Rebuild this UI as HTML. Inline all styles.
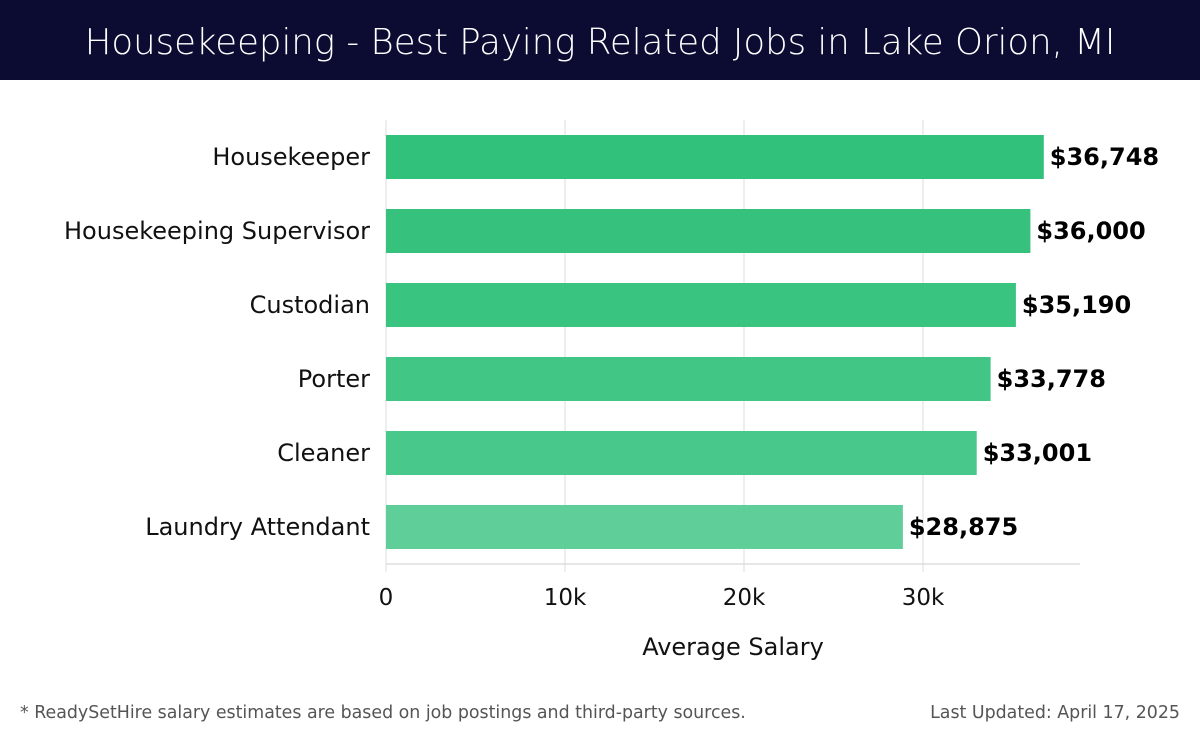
<!DOCTYPE html>
<html><head><meta charset="utf-8"><style>
body{margin:0;width:1200px;height:740px;background:#fff;font-family:"DejaVu Sans","Liberation Sans",sans-serif;overflow:hidden}
#hdr{position:absolute;left:0;top:0;width:1200px;height:80px;background:#0c0c33;color:#fff;font-size:35.5px;text-align:center;line-height:86px;font-weight:300}
.foot{position:absolute;top:703px;font-size:17.4px;color:#555}
</style></head><body>
<div id="hdr">Housekeeping - Best Paying Related Jobs in Lake Orion, MI</div>
<svg id="chart" width="1200" height="740" style="position:absolute;left:0;top:0;font-family:'DejaVu Sans',sans-serif"></svg>
<div class="foot" style="left:20px">* ReadySetHire salary estimates are based on job postings and third-party sources.</div>
<div class="foot" style="right:20px">Last Updated: April 17, 2025</div>
<script>
const categories=["Housekeeper","Housekeeping Supervisor","Custodian","Porter","Cleaner","Laundry Attendant"];
const values=[36748,36000,35190,33778,33001,28875];
const valueLabels=["$36,748","$36,000","$35,190","$33,778","$33,001","$28,875"];
const ticks=[0,10000,20000,30000];
const tickLabels=["0","10k","20k","30k"];
const colors=["#2bbf76","#2fc079","#33c27c","#3cc482","#42c686","#5acc96"];
const svg=document.getElementById('chart');const NS="http://www.w3.org/2000/svg";
const x0=386,pxPer=179/10000,top0=120,bottom=564,right=1080,step=74,firstC=157,bh=44;
const X=v=>x0+v*pxPer;const Y=i=>firstC+i*step;
function mk(t,a){const e=document.createElementNS(NS,t);for(const k in a)e.setAttribute(k,a[k]);svg.appendChild(e);return e;}
ticks.forEach((t,i)=>{
 const g=mk('line',{x1:X(t),x2:X(t),y1:top0,y2:bottom+8,stroke:'#ddd','stroke-width':1});
 
 const l=mk('text',{x:X(t),y:605,'text-anchor':'middle','font-size':23,fill:'#111'});l.textContent=tickLabels[i];
 
});
const ax=mk('line',{x1:x0,x2:right,y1:bottom,y2:bottom,stroke:'#ddd','stroke-width':1.5});

categories.forEach((c,i)=>{
 const r=mk('rect',{x:x0,y:Y(i)-bh/2,width:X(values[i])-x0,height:bh,fill:colors[i],'fill-opacity':0.97});
 
 const l=mk('text',{x:370,y:Y(i)+8,'text-anchor':'end','font-size':24,fill:'#111'});l.textContent=c;
 
 const v=mk('text',{x:X(values[i])+6,y:Y(i)+8,'font-size':24,'font-weight':'bold',fill:'#000'});v.textContent=valueLabels[i];
 
});
const t=mk('text',{x:733,y:655,'text-anchor':'middle','font-size':24,fill:'#111'});t.textContent="Average Salary";

</script>
</body></html>
